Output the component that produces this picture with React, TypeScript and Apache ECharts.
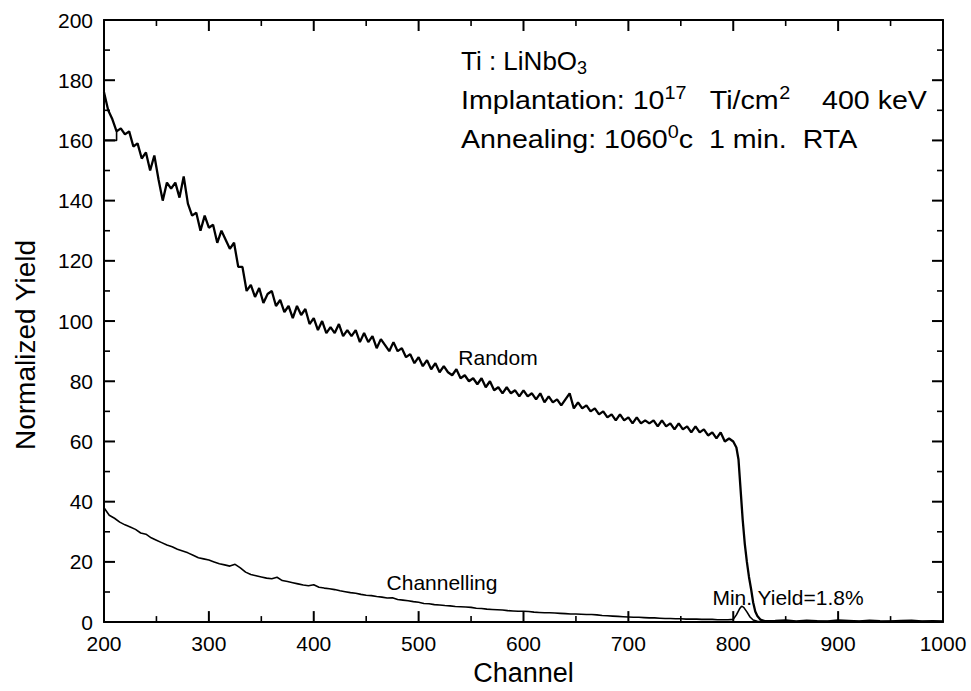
import React, { useEffect, useRef } from "react";
import * as echarts from "echarts";

// Random spectrum: channels 200..800, step 4
const RANDOM_START = 200;
const RANDOM_STEP = 4;
const randomBody = [
  176, 170, 167, 163, 164, 162, 163, 158, 159, 154,
  156, 150, 155, 147, 140, 146, 144, 146, 141, 148,
  139, 135, 136, 130, 135, 131, 132, 126, 130, 127,
  124, 126, 118, 118, 110, 112, 108, 111, 106, 109,
  110, 105, 107, 103, 105, 101, 105, 102, 104, 99,
  101, 97, 100, 96, 98, 96, 99, 95, 97, 95,
  97, 93, 96, 93, 95, 91, 94, 92, 90, 93,
  90, 91, 88, 89, 86, 88, 85, 87, 84, 86,
  83, 85, 83, 82, 84, 81, 82, 80, 81, 79,
  81, 78, 80, 77, 78, 76, 78, 76, 77, 75,
  77, 75, 76, 74, 76, 73, 75, 73, 74, 72,
  74, 76, 71, 73, 71, 72, 70, 71, 69, 70,
  68, 69, 67, 69, 67, 68, 66, 68, 66, 67,
  66, 67, 65, 67, 65, 66, 64, 66, 64, 65,
  63, 65, 63, 64, 62, 63, 61, 63, 60, 61,
  60,
];
const randomEdge: [number, number][] = [
  [803, 58], [805, 54], [807, 44], [809, 34], [811, 26], [813, 20],
  [815, 15], [817, 11], [819, 6.5], [821, 3.5], [823, 2], [826, 0.8], [830, 0.3],
];
// tails: channels 840..1000, step 10
const TAIL_START = 840;
const TAIL_STEP = 10;
const randomTail = [0.4, 0.6, 0.2, 0.5, 0.3, 0.2, 0.6, 0.4, 0.2, 0.5, 0.3, 0.2, 0.4, 0.5, 0.2, 0.3, 0.2];
const randomStepMark: [number, number][] = [[200, 160], [212, 160], [212, 163]];

// Channelling spectrum: channels 200..795, step 5
const CHAN_START = 200;
const CHAN_STEP = 5;
const channellingBody = [
  38, 35.5, 34.5, 33.2, 32.3, 31.6, 30.8, 29.6, 29.2, 28,
  27.2, 26.4, 25.6, 25, 24.2, 23.6, 23, 22.2, 21.4, 21,
  20.6, 20, 19.4, 19, 18.6, 19.2, 18, 16.6, 15.8, 15.4,
  15, 14.6, 14.4, 14.9, 13.8, 13.5, 13.1, 12.7, 12.3, 12.1,
  12.4, 11.6, 11.3, 11.1, 10.8, 10.4, 10.1, 9.8, 9.6, 9.2,
  8.9, 8.8, 8.5, 8.3, 8, 8.1, 7.5, 7.3, 7.1, 6.8,
  6.6, 6.2, 6.1, 5.8, 5.7, 5.5, 5.4, 5.2, 5.1, 5,
  4.9, 4.6, 4.5, 4.3, 4.2, 4.1, 4, 3.8, 3.7, 3.6,
  3.6, 3.5, 3.3, 3.2, 3.1, 3.1, 3, 2.9, 2.8, 2.7,
  2.7, 2.6, 2.5, 2.5, 2.4, 2.2, 2.1, 2, 1.9, 1.8,
  1.7, 1.6, 1.6, 1.5, 1.4, 1.4, 1.3, 1.2, 1.2, 1.1,
  1.1, 1, 1, 1, 0.9, 0.9, 0.9, 0.8, 0.8, 0.8,
];
const channellingPeak: [number, number][] = [
  [800, 0.9], [803, 2.4], [806, 4.4], [808, 5.3], [810, 4.9], [813, 3.4],
  [816, 1.7], [819, 0.7], [823, 0.3], [830, 0.2],
];
const channellingTail = [0.2, 0.3, 0.1, 0.2, 0.3, 0.2, 0.1, 0.3, 0.2, 0.2, 0.1, 0.3, 0.2, 0.1, 0.2, 0.2, 0.1];

const X_MIN = 200, X_MAX = 1000, X_INTERVAL = 100;
const Y_MIN = 0, Y_MAX = 200, Y_INTERVAL = 20;

const FONT = "'Liberation Sans', Arial, Helvetica, sans-serif";
const MAJOR_LEN = 11;
const MINOR_LEN = 6;

function stepped(start: number, step: number, vals: number[]): [number, number][] {
  return vals.map((v, i) => [start + i * step, v]);
}

function axisParts() {
  return {
    axisLine: { show: true, onZero: false, lineStyle: { color: "#000", width: 2 } },
    axisTick: { show: false },
    minorTick: { show: false },
    splitLine: { show: false },
    minorSplitLine: { show: false },
  };
}

export default function App() {
  const ref = useRef<HTMLDivElement>(null);
  useEffect(() => {
    if (!ref.current) return;
    const chart = echarts.init(ref.current, null, { renderer: "svg" });
    const randomData = [
      ...stepped(RANDOM_START, RANDOM_STEP, randomBody),
      ...randomEdge,
      ...stepped(TAIL_START, TAIL_STEP, randomTail),
    ];
    const chanData = [
      ...stepped(CHAN_START, CHAN_STEP, channellingBody),
      ...channellingPeak,
      ...stepped(TAIL_START, TAIL_STEP, channellingTail),
    ];
    const mkRich = (size: number) => ({
      n: { fontSize: size, fontFamily: FONT, color: "#000", lineHeight: 32 },
      sup: { fontSize: 18, fontFamily: FONT, color: "#000", verticalAlign: "top", lineHeight: 32 },
      sub: { fontSize: 18, fontFamily: FONT, color: "#000", verticalAlign: "bottom", lineHeight: 32 },
    });
    const tickLabel = { fontSize: 21, fontFamily: FONT, color: "#000", margin: 11, formatter: (v: number) => String(v) };
    const xBase = { type: "value", min: X_MIN, max: X_MAX, interval: X_INTERVAL };
    const yBase = { type: "value", min: Y_MIN, max: Y_MAX, interval: Y_INTERVAL };
    const texts: any[] = [
      {
        type: "text", x: 25, y: 345, rotation: Math.PI / 2,
        style: { text: "Normalized Yield", font: `28px ${FONT}`, fill: "#000", align: "center", verticalAlign: "middle" },
      },
      {
        type: "text", x: 461, y: 61,
        style: { text: "{n|Ti : LiNbO}{sub|3}", rich: mkRich(26), verticalAlign: "middle", align: "left" },
      },
      {
        type: "text", x: 461, y: 100, scaleX: 1.1,
        style: {
          text: "{n|Implantation: 10}{sup|17}{n|   Ti/cm}{sup|2}{n|    400 keV}",
          rich: mkRich(26), verticalAlign: "middle", align: "left",
        },
      },
      {
        type: "text", x: 461, y: 139, scaleX: 1.1,
        style: {
          text: "{n|Annealing: 1060}{sup|0}{n|c  1 min.  RTA}",
          rich: mkRich(26), verticalAlign: "middle", align: "left",
        },
      },
      {
        type: "text", x: 498, y: 357,
        style: { text: "Random", font: `21px ${FONT}`, fill: "#000", align: "center", verticalAlign: "middle" },
      },
      {
        type: "text", x: 442, y: 582,
        style: { text: "Channelling", font: `21px ${FONT}`, fill: "#000", align: "center", verticalAlign: "middle" },
      },
      {
        type: "text", x: 788, y: 597,
        style: { text: "Min. Yield=1.8%", font: `21px ${FONT}`, fill: "#000", align: "center", verticalAlign: "middle" },
      },
    ];
    chart.setOption({
      animation: false,
      backgroundColor: "#fff",
      grid: { left: 104, right: 28, top: 20, bottom: 65, containLabel: false },
      xAxis: [
        {
          ...xBase, position: "bottom",
          name: "Channel", nameLocation: "middle", nameGap: 33,
          nameTextStyle: { fontSize: 27, fontFamily: FONT, color: "#000" },
          axisLabel: tickLabel,
          ...axisParts(),
        },
        { ...xBase, position: "top", axisLabel: { show: false }, ...axisParts() },
      ],
      yAxis: [
        { ...yBase, position: "left", axisLabel: { ...tickLabel }, ...axisParts() },
        { ...yBase, position: "right", axisLabel: { show: false }, ...axisParts() },
      ],
      series: [
        {
          name: "Random", type: "line", data: randomData, showSymbol: false, symbol: "none",
          lineStyle: { color: "#000", width: 2.3 }, silent: true,
        },
        {
          name: "RandomStep", type: "line", data: randomStepMark, showSymbol: false, symbol: "none",
          lineStyle: { color: "#000", width: 1.6 }, silent: true,
        },
        {
          name: "Channelling", type: "line", data: chanData, showSymbol: false, symbol: "none",
          lineStyle: { color: "#000", width: 1.6 }, silent: true,
        },
      ],
      graphic: texts,
    });

    // Inward ticks on all four sides, positioned through the axes' own scales
    const xp = (v: number) => chart.convertToPixel({ xAxisIndex: 0 }, v) as number;
    const yp = (v: number) => chart.convertToPixel({ yAxisIndex: 0 }, v) as number;
    const left = xp(X_MIN), right = xp(X_MAX), bottom = yp(Y_MIN), top = yp(Y_MAX);
    const ticks: any[] = [];
    const tl = (x1: number, y1: number, x2: number, y2: number, w: number) =>
      ticks.push({ type: "line", silent: true, z: 10, shape: { x1, y1, x2, y2 }, style: { stroke: "#000", lineWidth: w } });
    const xHalf = X_INTERVAL / 2;
    for (let v = X_MIN + xHalf; v < X_MAX; v += xHalf) {
      const major = (v - X_MIN) % X_INTERVAL === 0;
      const len = major ? MAJOR_LEN : MINOR_LEN;
      const w = major ? 2 : 1.6;
      const px = xp(v);
      tl(px, bottom, px, bottom - len, w);
      tl(px, top, px, top + len, w);
    }
    const yHalf = Y_INTERVAL / 2;
    for (let v = Y_MIN + yHalf; v < Y_MAX; v += yHalf) {
      const major = (v - Y_MIN) % Y_INTERVAL === 0;
      const len = major ? MAJOR_LEN : MINOR_LEN;
      const w = major ? 2 : 1.6;
      const py = yp(v);
      tl(left, py, left + len, py, w);
      tl(right, py, right - len, py, w);
    }
    chart.setOption({ graphic: [...texts, ...ticks] });

    return () => chart.dispose();
  }, []);
  return (
    <div
      ref={ref}
      style={{ position: "absolute", left: 0, top: 0, width: 971, height: 691, background: "#fff" }}
    />
  );
}
